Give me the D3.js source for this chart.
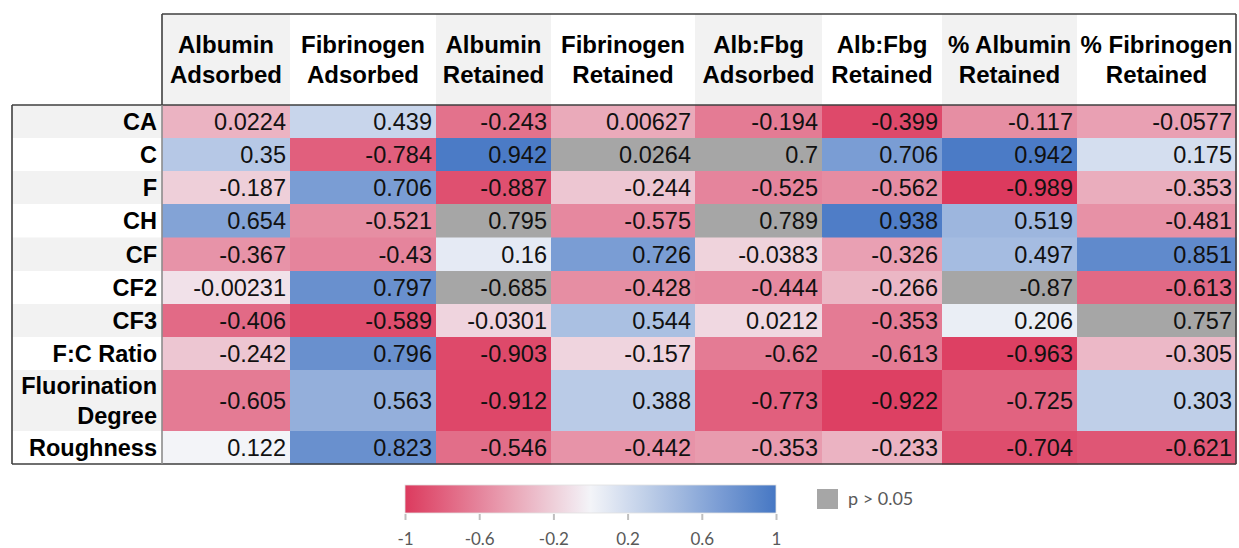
<!DOCTYPE html>
<html><head><meta charset="utf-8">
<script src="https://cdn.jsdelivr.net/npm/d3@7"></script>
<style>body{margin:0;background:#fff}svg{display:block}</style>
</head><body><svg id="c" width="1239" height="548"></svg>
<script>
// ---- data ----
const columns = [["Albumin","Adsorbed"],["Fibrinogen","Adsorbed"],["Albumin","Retained"],["Fibrinogen","Retained"],["Alb:Fbg","Adsorbed"],["Alb:Fbg","Retained"],["% Albumin","Retained"],["% Fibrinogen","Retained"]];
const rows = [["CA"],["C"],["F"],["CH"],["CF"],["CF2"],["CF3"],["F:C Ratio"],["Fluorination","Degree"],["Roughness"]];
const values = [
 ["0.0224","0.439","-0.243","0.00627","-0.194","-0.399","-0.117","-0.0577"],
 ["0.35","-0.784","0.942","0.0264","0.7","0.706","0.942","0.175"],
 ["-0.187","0.706","-0.887","-0.244","-0.525","-0.562","-0.989","-0.353"],
 ["0.654","-0.521","0.795","-0.575","0.789","0.938","0.519","-0.481"],
 ["-0.367","-0.43","0.16","0.726","-0.0383","-0.326","0.497","0.851"],
 ["-0.00231","0.797","-0.685","-0.428","-0.444","-0.266","-0.87","-0.613"],
 ["-0.406","-0.589","-0.0301","0.544","0.0212","-0.353","0.206","0.757"],
 ["-0.242","0.796","-0.903","-0.157","-0.62","-0.613","-0.963","-0.305"],
 ["-0.605","0.563","-0.912","0.388","-0.773","-0.922","-0.725","0.303"],
 ["0.122","0.823","-0.546","-0.442","-0.353","-0.233","-0.704","-0.621"]
];
// colour value read from each cell's shade (null = p > 0.05, grey)
const shade = [
 [-0.35,0.25,-0.7,-0.4,-0.65,-0.92,-0.55,-0.45],
 [0.35,-0.8,0.97,null,null,0.7,0.97,0.18],
 [-0.2,0.7,-0.88,-0.25,-0.6,-0.56,-1,-0.38],
 [0.65,-0.55,null,-0.58,null,0.95,0.5,-0.53],
 [-0.52,-0.6,0.08,0.7,-0.18,-0.45,0.45,0.85],
 [-0.1,0.8,null,-0.55,-0.57,-0.33,null,-0.75],
 [-0.74,-0.9,-0.17,0.42,-0.15,-0.65,0.05,null],
 [-0.25,0.8,-0.92,-0.17,-0.65,-0.65,-0.97,-0.32],
 [-0.65,0.55,-0.93,0.33,-0.8,-0.97,-0.78,0.3],
 [0.0,0.8,-0.72,-0.52,-0.48,-0.35,-0.9,-0.85]
];
const legendTicks = [-1,-0.6,-0.2,0.2,0.6,1];
const legendLabel = "p > 0.05";

// ---- layout ----
const colWidths = [128,146,115,144,127,120,135,159];
const rowHeights = [33,33,33,33.5,33.5,33,33,33,61,33];
const leftX = 12, labelW = 150, topY = 14, headH = 91;
const tableX = leftX + labelW;

const svg = d3.select("#c");
const colX = d3.scaleOrdinal(d3.range(columns.length), Array.from(d3.cumsum([0,...colWidths])).map(v=>tableX+v));
const rowY = d3.scaleOrdinal(d3.range(rows.length), Array.from(d3.cumsum([0,...rowHeights])).map(v=>topY+headH+v));
const color = d3.scaleLinear().domain([-1,0,1]).range(["#DC3A5E","#F3F4F8","#4677C4"]);
const tableR = tableX + d3.sum(colWidths);
const tableB = topY + headH + d3.sum(rowHeights);
const FONT = "'Liberation Sans', Arial, sans-serif";

// header backgrounds
svg.selectAll("rect.hbg").data(columns).join("rect").attr("class","hbg")
  .attr("x",(d,i)=>colX(i)).attr("y",topY).attr("width",(d,i)=>colWidths[i]).attr("height",headH)
  .attr("fill",(d,i)=>i%2===0?"#F2F2F2":"#FFFFFF");
svg.selectAll("text.h").data(columns).join("text").attr("class","h")
  .attr("text-anchor","middle")
  .attr("font-family",FONT).attr("font-weight","bold").attr("font-size",24)
  .each(function(d,i){
    const cx = colX(i)+colWidths[i]/2;
    d3.select(this).selectAll("tspan").data(d).join("tspan")
      .attr("x",cx)
      .attr("y",(t,j)=>topY+headH/2-15+j*30+8.5).text(t=>t);
  });

// row label backgrounds
svg.selectAll("rect.rbg").data(rows).join("rect").attr("class","rbg")
  .attr("x",leftX).attr("y",(d,i)=>rowY(i)).attr("width",labelW).attr("height",(d,i)=>rowHeights[i])
  .attr("fill",(d,i)=>i%2===0?"#F2F2F2":"#FFFFFF");
svg.selectAll("text.r").data(rows).join("text").attr("class","r")
  .attr("text-anchor","end")
  .attr("font-family",FONT).attr("font-weight","bold").attr("font-size",23.5)
  .each(function(d,i){
    const cy = rowY(i)+rowHeights[i]/2;
    d3.select(this).selectAll("tspan").data(d).join("tspan")
      .attr("x",tableX-5)
      .attr("y",(t,j)=>cy-(d.length-1)*15+j*30+8.5).text(t=>t);
  });

// cells
const cells = [];
values.forEach((r,i)=>r.forEach((v,j)=>cells.push({i,j,v,s:shade[i][j]})));
svg.selectAll("rect.cell").data(cells).join("rect").attr("class","cell")
  .attr("x",d=>colX(d.j)).attr("y",d=>rowY(d.i))
  .attr("width",d=>colWidths[d.j]+0.5).attr("height",d=>rowHeights[d.i]+0.5)
  .attr("fill",d=>d.s===null?"#A6A6A6":color(d.s));
svg.selectAll("text.cell").data(cells).join("text").attr("class","cell")
  .attr("x",d=>colX(d.j)+colWidths[d.j]-4).attr("y",d=>rowY(d.i)+rowHeights[d.i]/2+8.5)
  .attr("text-anchor","end").attr("font-family",FONT).attr("font-size",23.5)
  .attr("fill","#111").text(d=>d.v);

// borders
const bc = "#3F3F3F";
const lines = [
  [tableX,topY,tableR,topY],[tableR,topY,tableR,tableB],[leftX,tableB,tableR,tableB],
  [leftX,topY+headH,tableX,topY+headH],[leftX,topY+headH,leftX,tableB],[tableX,topY,tableX,topY+headH],
  [tableX,topY+headH,tableR,topY+headH]
];
svg.selectAll("line.b").data(lines).join("line").attr("class","b")
  .attr("x1",d=>d[0]).attr("y1",d=>d[1]).attr("x2",d=>d[2]).attr("y2",d=>d[3])
  .attr("stroke",bc).attr("stroke-width",1.6);
svg.append("line").attr("x1",tableX).attr("x2",tableX).attr("y1",topY+headH).attr("y2",tableB)
  .attr("stroke","#8C8C8C").attr("stroke-width",1.6);

// legend
const lx = d3.scaleLinear().domain([-1,1]).range([405,776]);
const grad = svg.append("defs").append("linearGradient").attr("id","lg");
grad.selectAll("stop").data(d3.range(-1,1.001,0.1)).join("stop")
  .attr("offset",d=>((d+1)/2*100)+"%").attr("stop-color",d=>color(d));
svg.append("rect").attr("x",lx(-1)).attr("y",485).attr("width",lx(1)-lx(-1)).attr("height",28)
  .attr("fill","url(#lg)").attr("stroke","#E0E0E0").attr("stroke-width",0.8);
const ax = svg.append("g").attr("transform","translate(0,514)")
  .call(d3.axisBottom(lx).tickValues(legendTicks).tickSize(6).tickPadding(13).tickFormat(d=>String(d)));
ax.select(".domain").remove();
ax.selectAll(".tick line").attr("stroke","#BFBFBF").attr("stroke-width",2);
ax.selectAll(".tick text").attr("fill","#595959").attr("font-family","Lato, 'Open Sans', sans-serif").attr("font-size",17);
svg.append("rect").attr("x",817).attr("y",489).attr("width",21).attr("height",20).attr("fill","#A6A6A6");
svg.append("text").attr("x",848).attr("y",505).attr("fill","#595959")
  .attr("font-family","Lato, 'Open Sans', sans-serif").attr("font-size",18).text(legendLabel);
</script></body></html>
